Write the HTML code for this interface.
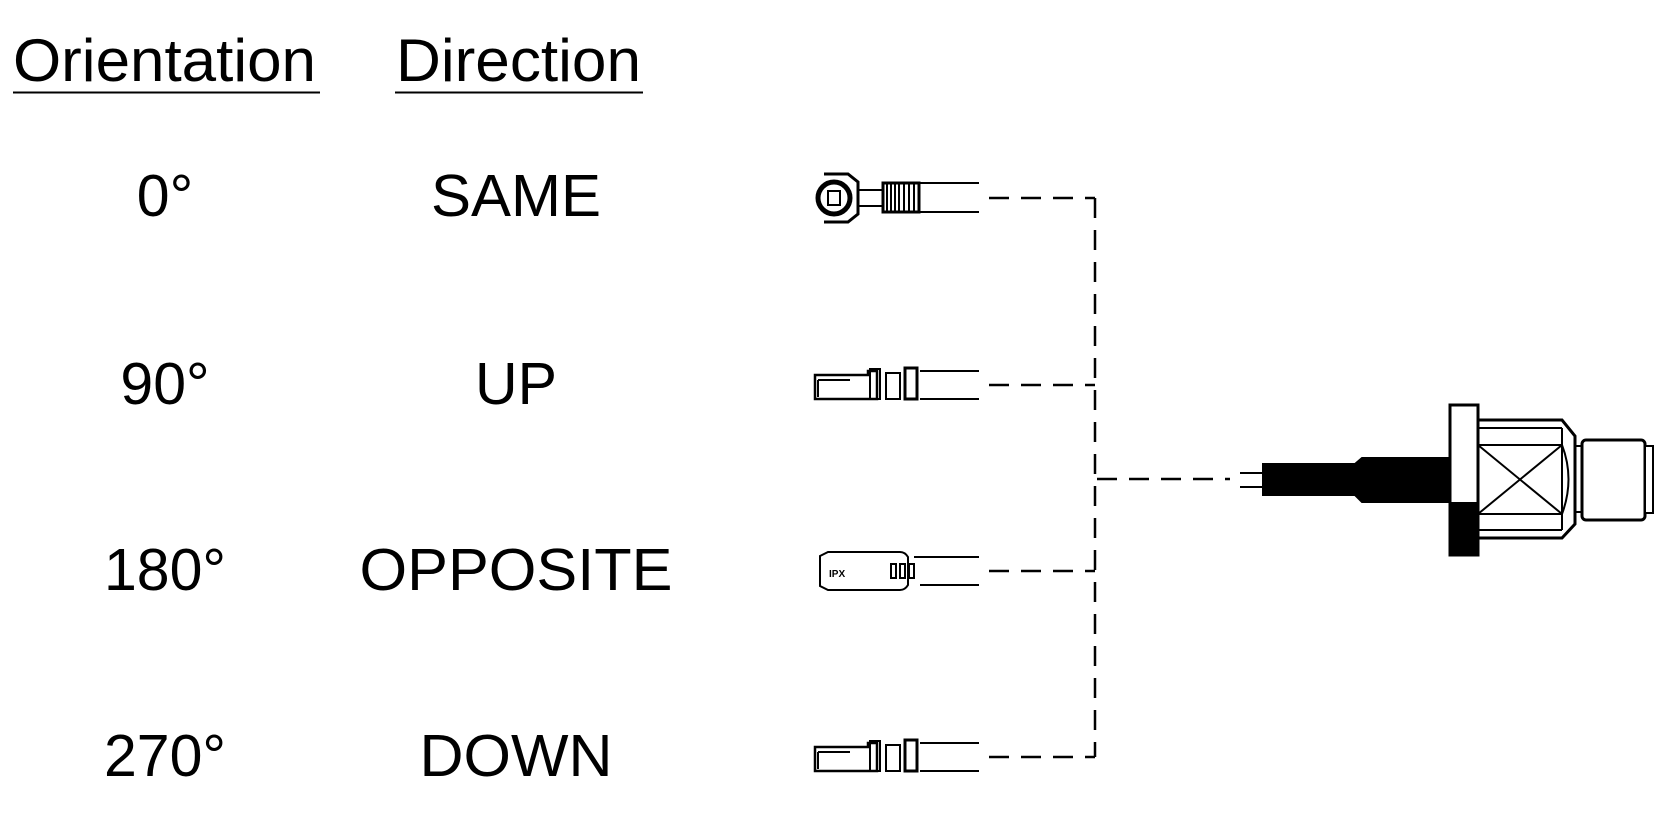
<!DOCTYPE html>
<html><head><meta charset="utf-8"><style>
html,body{margin:0;padding:0;background:#fff;}
svg{display:block}
text{font-family:"Liberation Sans",Arial,sans-serif;fill:#000}
</style></head><body>
<svg width="1667" height="834" viewBox="0 0 1667 834" xmlns="http://www.w3.org/2000/svg">
<g font-size="60">
<text x="13" y="81" textLength="303" lengthAdjust="spacingAndGlyphs">Orientation</text>
<text x="396" y="81" textLength="245" lengthAdjust="spacingAndGlyphs">Direction</text>
</g>
<line x1="13" y1="92.5" x2="320" y2="92.5" stroke="#000" stroke-width="2"/>
<line x1="395" y1="92.5" x2="643" y2="92.5" stroke="#000" stroke-width="2"/>
<g font-size="59" text-anchor="middle">
<text x="165" y="216">0°</text><text x="516" y="216" textLength="170" lengthAdjust="spacingAndGlyphs">SAME</text>
<text x="165" y="404">90°</text><text x="516" y="404">UP</text>
<text x="165" y="590">180°</text><text x="516" y="590" textLength="313" lengthAdjust="spacingAndGlyphs">OPPOSITE</text>
<text x="165" y="776">270°</text><text x="516" y="776" textLength="193" lengthAdjust="spacingAndGlyphs">DOWN</text>
</g>
<g stroke="#000" stroke-width="2.5" fill="none" stroke-dasharray="20 12">
<line x1="989" y1="198" x2="1095" y2="198"/>
<line x1="989" y1="385" x2="1095" y2="385"/>
<line x1="989" y1="571" x2="1095" y2="571"/>
<line x1="989" y1="757" x2="1095" y2="757"/>
<line x1="1095" y1="198" x2="1095" y2="757"/>
<line x1="1097" y1="479" x2="1230" y2="479"/>
</g>
<!-- connector 1 -->
<g stroke="#000" stroke-width="2" fill="none">
<line x1="920" y1="183" x2="979" y2="183"/><line x1="920" y1="212" x2="979" y2="212"/>
<circle cx="834" cy="198" r="16" stroke-width="5"/>
<rect x="828" y="191" width="12" height="14" stroke-width="2"/>
<path d="M824 174 H848 L858 182 V214 L848 222 H824" stroke-width="3"/>
<rect x="883" y="183" width="36" height="29" stroke-width="3"/>
<line x1="887" y1="183" x2="887" y2="212"/><line x1="891" y1="183" x2="891" y2="212"/><line x1="895" y1="183" x2="895" y2="212"/><line x1="899" y1="183" x2="899" y2="212"/><line x1="904" y1="183" x2="904" y2="212"/><line x1="909" y1="183" x2="909" y2="212"/><line x1="914" y1="183" x2="914" y2="212"/>
<path d="M858 190 H883 M858 206 H883" stroke-width="2"/>
</g>
<!-- connector 2 & 4 -->
<g id="c2" stroke="#000" stroke-width="2" fill="none">
<line x1="920" y1="371" x2="979" y2="371"/><line x1="920" y1="399" x2="979" y2="399"/>
<path d="M815 375 H868 V371 H877 V399 H815 Z" stroke-width="2.5"/>
<path d="M818 380 H850 M818 380 V397"/>
<rect x="870" y="369" width="10" height="30"/>
<rect x="886" y="373" width="14" height="26"/>
<rect x="905" y="368" width="12" height="31" stroke-width="3"/>
</g>
<use href="#c2" transform="translate(0,372)"/>
<!-- connector 3 -->
<g stroke="#000" stroke-width="2" fill="none">
<line x1="920" y1="557" x2="979" y2="557"/><line x1="920" y1="585" x2="979" y2="585"/>
<path d="M820 556 L828 552 H900 Q905 552 908 557 V585 Q905 590 900 590 H828 L820 586 Z"/>
<rect x="891" y="564" width="5" height="14"/><rect x="900" y="564" width="5" height="14"/><rect x="909" y="564" width="5" height="14"/>
<line x1="914" y1="557" x2="920" y2="557"/>
</g>
<text x="829" y="577" font-size="10" font-weight="bold" font-family="Liberation Serif,serif">IPX</text>
<!-- right connector -->
<g stroke="#000" stroke-width="2">
<line x1="1240" y1="473" x2="1263" y2="473"/><line x1="1240" y1="487" x2="1263" y2="487"/>
<path d="M1263 464 H1355 L1362 458 H1450 V502 H1362 L1355 495 H1263 Z" fill="#000"/>
<rect x="1450" y="405" width="28" height="150" fill="#fff" stroke-width="3"/>
<rect x="1450" y="503" width="28" height="52" fill="#000"/>
<path d="M1478 420 H1562 L1575 436 V524 L1562 538 H1478" fill="none" stroke-width="3"/>
<line x1="1478" y1="428" x2="1562" y2="428"/><line x1="1478" y1="530" x2="1562" y2="530"/>
<line x1="1478" y1="445" x2="1562" y2="445"/><line x1="1478" y1="514" x2="1562" y2="514"/>
<line x1="1478" y1="445" x2="1562" y2="514"/><line x1="1478" y1="514" x2="1562" y2="445"/>
<line x1="1562" y1="428" x2="1562" y2="530"/>
<path d="M1562 445 Q1575 479 1562 514" fill="none"/>
<line x1="1575" y1="446" x2="1582" y2="446"/><line x1="1575" y1="512" x2="1582" y2="512"/>
<rect x="1582" y="440" width="63" height="80" rx="4" fill="#fff" stroke-width="3"/>
<rect x="1645" y="446" width="8" height="67" fill="#fff"/>
</g>
</svg>
</body></html>
